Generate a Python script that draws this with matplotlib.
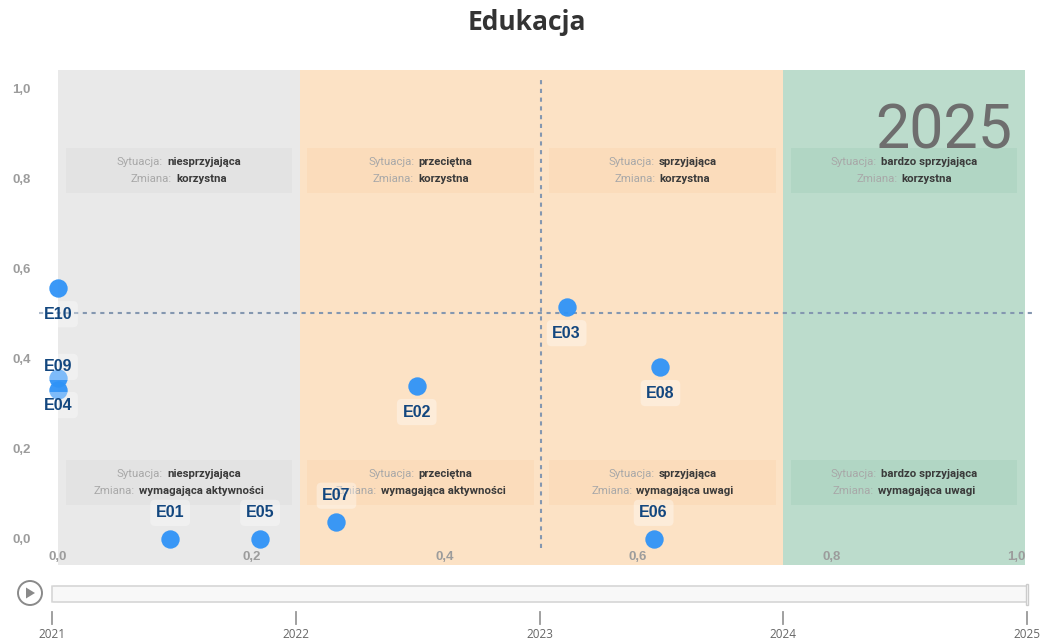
import matplotlib
matplotlib.use("Agg")
import matplotlib.pyplot as plt
from matplotlib.patches import Rectangle, FancyBboxPatch, Circle, Polygon
from matplotlib.offsetbox import TextArea, HPacker, VPacker, AnnotationBbox

# ---------------- data ----------------
title = "Edukacja"
year = "2025"
point_names = ["E01", "E02", "E03", "E04", "E05", "E06", "E07", "E08", "E09", "E10"]
point_x = [0.116, 0.371, 0.526, 0.0, 0.209, 0.616, 0.288, 0.623, 0.0, 0.0]
point_y = [0.0, 0.339, 0.514, 0.330, 0.0, 0.0, 0.038, 0.381, 0.357, 0.556]

zone_edges = [0.0, 0.25, 0.75, 1.0]
zone_colors = ["#e9e9e9", "#fce2c5", "#bcdccc"]

quad_edges = [0.0, 0.25, 0.5, 0.75, 1.0]
situations = ["niesprzyjająca", "przeciętna", "sprzyjająca", "bardzo sprzyjająca"]
change_top = ["korzystna", "korzystna", "korzystna", "korzystna"]
change_bottom = ["wymagająca aktywności", "wymagająca aktywności",
                 "wymagająca uwagi", "wymagająca uwagi"]
quad_box_colors = ["#e3e3e3", "#fbdcbb", "#b1d6c4"]

x_ticks = [0.0, 0.2, 0.4, 0.6, 0.8, 1.0]
y_ticks = [0.0, 0.2, 0.4, 0.6, 0.8, 1.0]
tick_labels = ["0,0", "0,2", "0,4", "0,6", "0,8", "1,0"]

years = [2021, 2022, 2023, 2024, 2025]

# label placement (pixels, positive = above the point)
label_offset_px = {"E01": 26, "E05": 26, "E06": 26, "E07": 26, "E09": 11, "E04": -15}
default_offset_px = -26

# ---------------- figure ----------------
W, H = 1042, 643
fig = plt.figure(figsize=(W / 100, H / 100), dpi=100)
fig.patch.set_facecolor("white")

def box(l, t, r, b):
    return [l / W, 1 - b / H, (r - l) / W, (b - t) / H]

ax = fig.add_axes(box(57, 70, 1025, 565))
ax.set_xlim(-0.001, 1)
ax.set_ylim(-0.058, 1.04)
for s in ax.spines.values():
    s.set_visible(False)

# zones
for i, c in enumerate(zone_colors):
    ax.axvspan(zone_edges[i], zone_edges[i + 1], color=c, lw=0, zorder=0)

# quadrant annotation boxes
sit_font = dict(family="Roboto", fontsize=8.2)
for i in range(4):
    x0, x1 = quad_edges[i] + 0.008, quad_edges[i + 1] - 0.008
    zc = 0 if i == 0 else (1 if i < 3 else 2)
    for (yb, yt, chg) in [(0.767, 0.867, change_top[i]), (0.075, 0.175, change_bottom[i])]:
        ax.add_patch(Rectangle((x0, yb), x1 - x0, yt - yb, color=quad_box_colors[zc],
                               lw=0, zorder=1))
        l1 = HPacker(children=[TextArea("Sytuacja:", textprops=dict(color="#a8a8a8", **sit_font)),
                               TextArea(situations[i], textprops=dict(color="#3a3a3a", fontweight="bold", **sit_font))],
                     align="baseline", pad=0, sep=3)
        l2 = HPacker(children=[TextArea("Zmiana:", textprops=dict(color="#a8a8a8", **sit_font)),
                               TextArea(chg, textprops=dict(color="#3a3a3a", fontweight="bold", **sit_font))],
                     align="baseline", pad=0, sep=3)
        vp = VPacker(children=[l1, l2], align="center", pad=0, sep=5)
        ab = AnnotationBbox(vp, ((x0 + x1) / 2, (yb + yt) / 2), frameon=False,
                            box_alignment=(0.5, 0.5), zorder=2)
        ax.add_artist(ab)

# reference dashed lines
ax.plot([-0.02, 1.008], [0.5, 0.5], ls=(0, (2.0, 2.2)), color="#8497b0", lw=1.5,
        clip_on=False, zorder=3)
ax.plot([0.5, 0.5], [-0.02, 1.022], ls=(0, (2.0, 2.2)), color="#8497b0", lw=1.5,
        clip_on=False, zorder=3)

# year watermark
ax.text(0.987, 0.876, year, transform=ax.transAxes, ha="right", va="center",
        fontsize=44, family="Roboto", color="#6e6e6e", zorder=2)

# points
ax.scatter(point_x, point_y, s=175, color="#2f93f7", alpha=0.95, lw=0, zorder=5,
           clip_on=False)
for n, x, y in zip(point_names, point_x, point_y):
    dy = label_offset_px.get(n, default_offset_px) * 0.72
    ax.annotate(n, (x, y), xytext=(0, dy), textcoords="offset points",
                ha="center", va="center", fontsize=11.5, fontweight="bold",
                family="Liberation Sans", color="#13477f", zorder=6,
                bbox=dict(boxstyle="round,pad=0.35,rounding_size=0.3",
                          fc="white", ec="none", alpha=0.35),
                annotation_clip=False)

# ticks
ax.set_xticks(x_ticks)
ax.set_xticklabels(tick_labels)
ax.set_yticks(y_ticks)
ax.set_yticklabels(tick_labels)
ax.tick_params(axis="x", length=0, pad=-10, labelsize=9.5, labelcolor="#9c9c9c")
ax.tick_params(axis="y", length=0, pad=19, labelsize=9.5, labelcolor="#9c9c9c")
for t in ax.get_xticklabels() + ax.get_yticklabels():
    t.set_fontweight("bold")
    t.set_family("Liberation Sans")
xt = ax.get_xticklabels()
xt[-1].set_ha("right")

# title
fig.text(527 / W, 1 - 23 / H, title, ha="center", va="center", fontsize=19,
         fontweight="bold", family="Open Sans", color="#333333")

# ---------------- slider ----------------
sax = fig.add_axes(box(52, 576, 1027, 643))
sax.set_xlim(years[0], years[-1])
sax.set_ylim(67, 0)
sax.axis("off")
sax.add_patch(FancyBboxPatch((years[0], 10), years[-1] - years[0], 16,
                             boxstyle="round,pad=0,rounding_size=0.02",
                             fc="#f8f8f8", ec="#d6d6d6", lw=1.2, mutation_aspect=8,
                             clip_on=False))
for yv in years:
    sax.plot([yv, yv], [36, 48], color="#999999", lw=1.3, clip_on=False)
    sax.text(yv, 59, str(yv), ha="center", va="center", fontsize=8.5,
             family="Open Sans", color="#666666", clip_on=False)
# handle at current year
sax.add_patch(Rectangle((years[-1] - 0.006, 8), 0.012, 21, fc="white", ec="#cccccc",
                        lw=1, clip_on=False, zorder=5))

# play button
pax = fig.add_axes(box(0, 576, 52, 612))
pax.set_xlim(0, 52)
pax.set_ylim(36, 0)
pax.set_aspect("equal")
pax.axis("off")
pax.add_patch(Circle((30, 17), 12, fc="white", ec="#8a8a8a", lw=1.4))
pax.add_patch(Polygon([[26, 11.5], [26, 22.5], [35, 17]], closed=True, fc="#8a8a8a", ec="none"))

fig.savefig("out.png", dpi=100)
